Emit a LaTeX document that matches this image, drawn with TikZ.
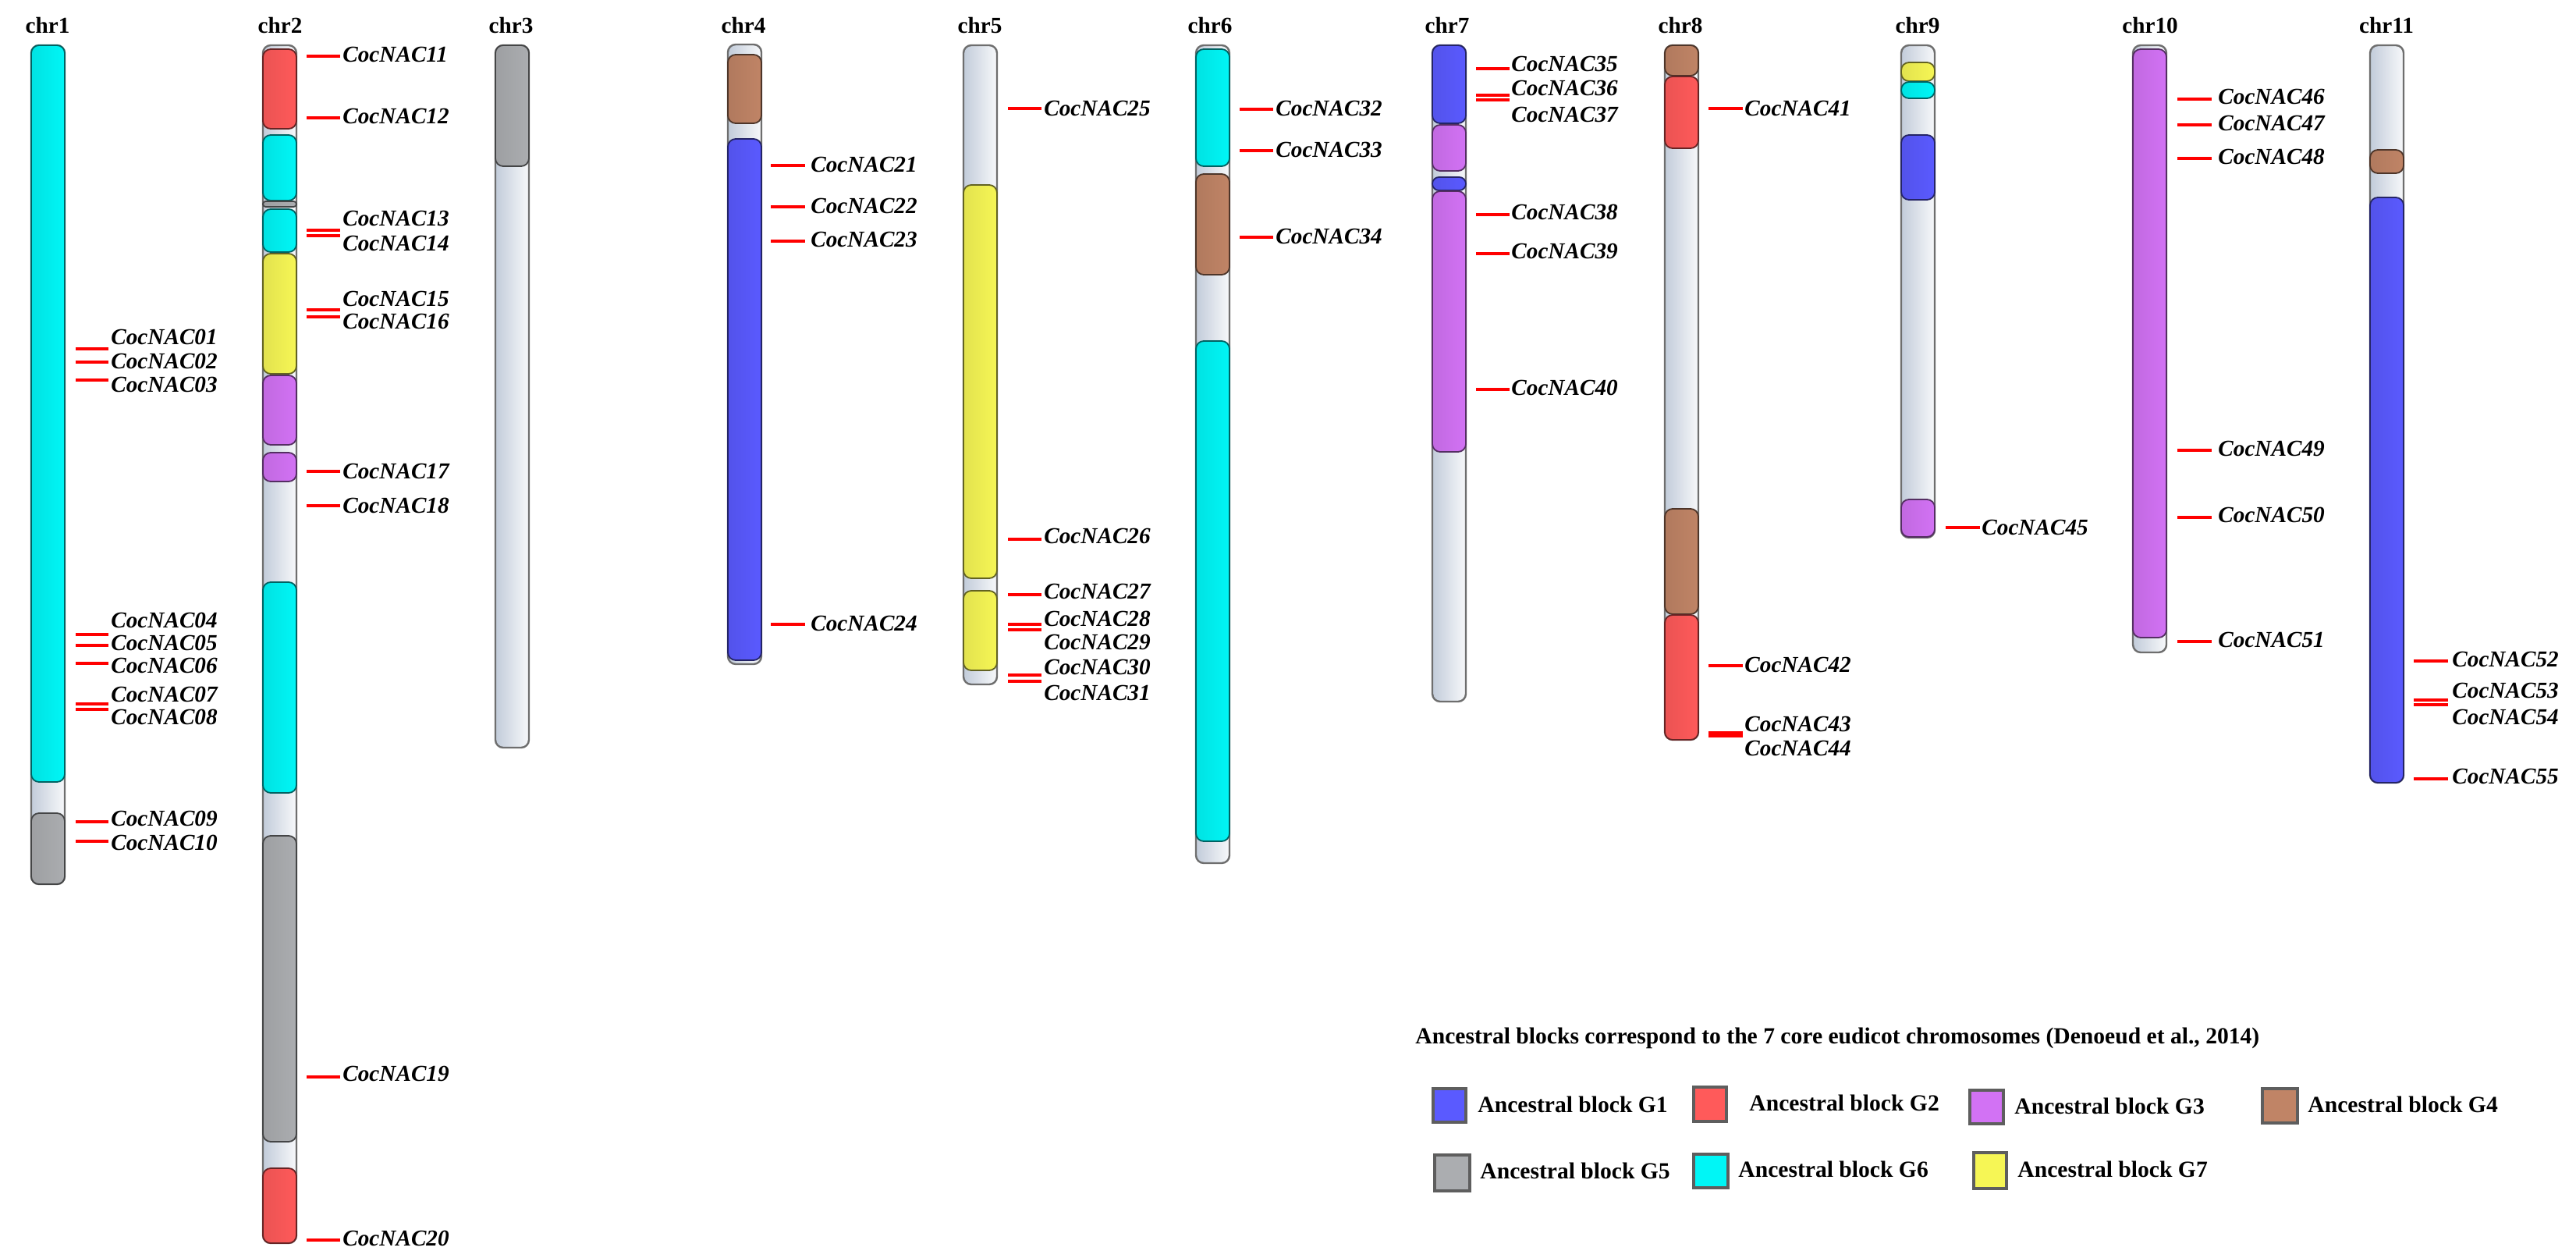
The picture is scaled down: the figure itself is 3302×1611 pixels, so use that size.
\documentclass[tikz,border=0pt]{standalone}
\usepackage{fontspec}
\setmainfont{Liberation Serif}
\definecolor{gA}{HTML}{5A5AFF}
\definecolor{gB}{HTML}{FF5A5A}
\definecolor{gC}{HTML}{D272F4}
\definecolor{gD}{HTML}{C08466}
\definecolor{gE}{HTML}{ABADB0}
\definecolor{gF}{HTML}{00F6F6}
\definecolor{gG}{HTML}{F6F655}
\definecolor{barL}{HTML}{C2CCDA}
\definecolor{barR}{HTML}{F7F8FA}
\definecolor{barEdge}{HTML}{6E6E6E}
\definecolor{legEdge}{HTML}{5E5E5E}
\tikzset{
  chrlab/.style={font=\fontsize{14.6}{16}\selectfont\bfseries, anchor=base, inner sep=0pt},
  glab/.style={font=\fontsize{14.6}{16}\selectfont\bfseries\itshape, anchor=west, inner sep=0pt},
  leglab/.style={font=\fontsize{14.8}{16}\selectfont\bfseries, anchor=west, inner sep=0pt},
  gene/.style={draw=red, line width=2pt},
  barstyle/.style={left color=barL, right color=barR, draw=barEdge, line width=1.2pt, rounded corners=5pt},
  legbox/.style={draw=legEdge, line width=2pt},
}
% bar: x0, top, bottom
\newcommand\chrbar[3]{\path[barstyle] (#1,#2) rectangle ({#1+43},#3);}
% block: x0, y0, y1, colour
\newcommand\blk[4]{%
  \pgfmathsetmacro\rr{min(5,(#3-#2)/4)}%
  \path[left color=#4!92!black, right color=#4, draw=#4!40!black, line width=0.9pt, rounded corners=\rr pt] (#1,#2) rectangle ({#1+43},#3);}
\begin{document}
\begin{tikzpicture}[x=0.5pt,y=-0.5pt]
\useasboundingbox[fill=white] (0,0) rectangle (3302,1611);

% ---------- chromosome labels ----------
\foreach \n/\x in {1/61,2/359,3/655,4/953,5/1256,6/1551,7/1855,8/2154,9/2458,10/2756,11/3059}
  \node[chrlab] (chr\n) at (\x,43) {chr\n};

% ---------- bars ----------
\chrbar{40}{58}{1133}
\chrbar{337}{58}{1593}
\chrbar{635}{58}{958}
\chrbar{933}{57}{851}
\chrbar{1235}{58}{877}
\chrbar{1533}{58}{1106}
\chrbar{1836}{58}{899}
\chrbar{2134}{58}{948}
\chrbar{2437}{58}{689}
\chrbar{2734}{58}{836}
\chrbar{3038}{58}{1003}

% ---------- blocks ----------
% chr1
\blk{40}{58}{1002}{gF}
\blk{40}{1042}{1133}{gE}
% chr2
\blk{337}{63}{165}{gB}
\blk{337}{173}{257}{gF}
\blk{337}{258}{265}{gE}
\blk{337}{268}{323}{gF}
\blk{337}{325}{479}{gG}
\blk{337}{481}{570}{gC}
\blk{337}{580}{617}{gC}
\blk{337}{746}{1016}{gF}
\blk{337}{1071}{1463}{gE}
\blk{337}{1497}{1593}{gB}
% chr3
\blk{635}{58}{213}{gE}
% chr4
\blk{933}{70}{158}{gD}
\blk{933}{178}{846}{gA}
% chr5
\blk{1235}{237}{741}{gG}
\blk{1235}{757}{859}{gG}
% chr6
\blk{1533}{63}{213}{gF}
\blk{1533}{223}{352}{gD}
\blk{1533}{437}{1078}{gF}
% chr7
\blk{1836}{58}{158}{gA}
\blk{1836}{160}{219}{gC}
\blk{1836}{227}{244}{gA}
\blk{1836}{245}{579}{gC}
% chr8
\blk{2134}{58}{97}{gD}
\blk{2134}{98}{190}{gB}
\blk{2134}{652}{787}{gD}
\blk{2134}{788}{948}{gB}
% chr9
\blk{2437}{80}{104}{gG}
\blk{2437}{105}{126}{gF}
\blk{2437}{173}{256}{gA}
\blk{2437}{640}{688}{gC}
% chr10
\blk{2734}{63}{817}{gC}
% chr11
\blk{3038}{192}{222}{gD}
\blk{3038}{253}{1003}{gA}

% ---------- gene marks ----------
\foreach \y in {447,464,487,813,827,850,902,909,1053,1078} \draw[gene] (97,\y) -- ++(42,0);
\foreach \y in {72,151,295,302,397,406,604,648,1380,1589} \draw[gene] (393,\y) -- ++(43,0);
\foreach \y in {212,265,309,800} \draw[gene] (988,\y) -- ++(44,0);
\foreach \y in {139,691,762,800,807,865,873} \draw[gene] (1292,\y) -- ++(43,0);
\foreach \y in {140,193,304} \draw[gene] (1589,\y) -- ++(43,0);
\foreach \y in {88,122,128,275,325,499} \draw[gene] (1892,\y) -- ++(43,0);
\foreach \y in {139,853,939,943} \draw[gene] (2190,\y) -- ++(44,0);
\foreach \y in {676} \draw[gene] (2494,\y) -- ++(44,0);
\foreach \y in {127,160,203,577,663,822} \draw[gene] (2791,\y) -- ++(44,0);
\foreach \y in {847,897,903,998} \draw[gene] (3094,\y) -- ++(44,0);

% ---------- gene labels ----------
\foreach \n/\y in {01/432,02/463,03/493,04/795,05/824,06/853,07/890,08/919,09/1049,10/1080}
  \node[glab] (n\n) at (142,\y) {CocNAC\n};
\foreach \n/\y in {11/70,12/149,13/280,14/312,15/383,16/412,17/604,18/648,19/1376,20/1587}
  \node[glab] (n\n) at (439,\y) {CocNAC\n};
\foreach \n/\y in {21/211,22/264,23/307,24/799}
  \node[glab] (n\n) at (1039,\y) {CocNAC\n};
\foreach \n/\y in {25/139,26/687,27/758,28/793,29/823,30/855,31/888}
  \node[glab] (n\n) at (1338,\y) {CocNAC\n};
\foreach \n/\y in {32/139,33/192,34/303}
  \node[glab] (n\n) at (1635,\y) {CocNAC\n};
\foreach \n/\y in {35/82,36/113,37/147,38/272,39/322,40/497}
  \node[glab] (n\n) at (1937,\y) {CocNAC\n};
\foreach \n/\y in {41/139,42/852,43/928,44/959}
  \node[glab] (n\n) at (2236,\y) {CocNAC\n};
\foreach \n/\y in {45/676}
  \node[glab] (n\n) at (2540,\y) {CocNAC\n};
\foreach \n/\y in {46/124,47/158,48/201,49/575,50/660,51/820}
  \node[glab] (n\n) at (2843,\y) {CocNAC\n};
\foreach \n/\y in {52/845,53/885,54/919,55/995}
  \node[glab] (n\n) at (3143,\y) {CocNAC\n};

% ---------- legend ----------
\node[font=\fontsize{14.8}{16}\selectfont\bfseries, anchor=base west, inner sep=0pt] (legtitle) at (1814,1337)
  {Ancestral blocks correspond to the 7 core eudicot chromosomes (Denoeud et al., 2014)};
\foreach \c/\xa/\ya/\xb/\yb/\lx/\ly/\g in {
  gA/1837/1395/1879/1438/1894/1415/1,
  gB/2171/1393/2213/1437/2242/1413/2,
  gC/2525/1397/2568/1440/2582/1417/3,
  gD/2900/1395/2945/1439/2958/1415/4,
  gE/1839/1480/1884/1526/1897/1500/5,
  gF/2171/1479/2215/1522/2228/1498/6,
  gG/2530/1477/2572/1523/2586/1498/7}
{
  \path[legbox, fill=\c] (\xa,\ya) rectangle (\xb,\yb);
  \node[leglab] (leg\g) at (\lx,\ly) {Ancestral block G\g};
}
\end{tikzpicture}
\end{document}
